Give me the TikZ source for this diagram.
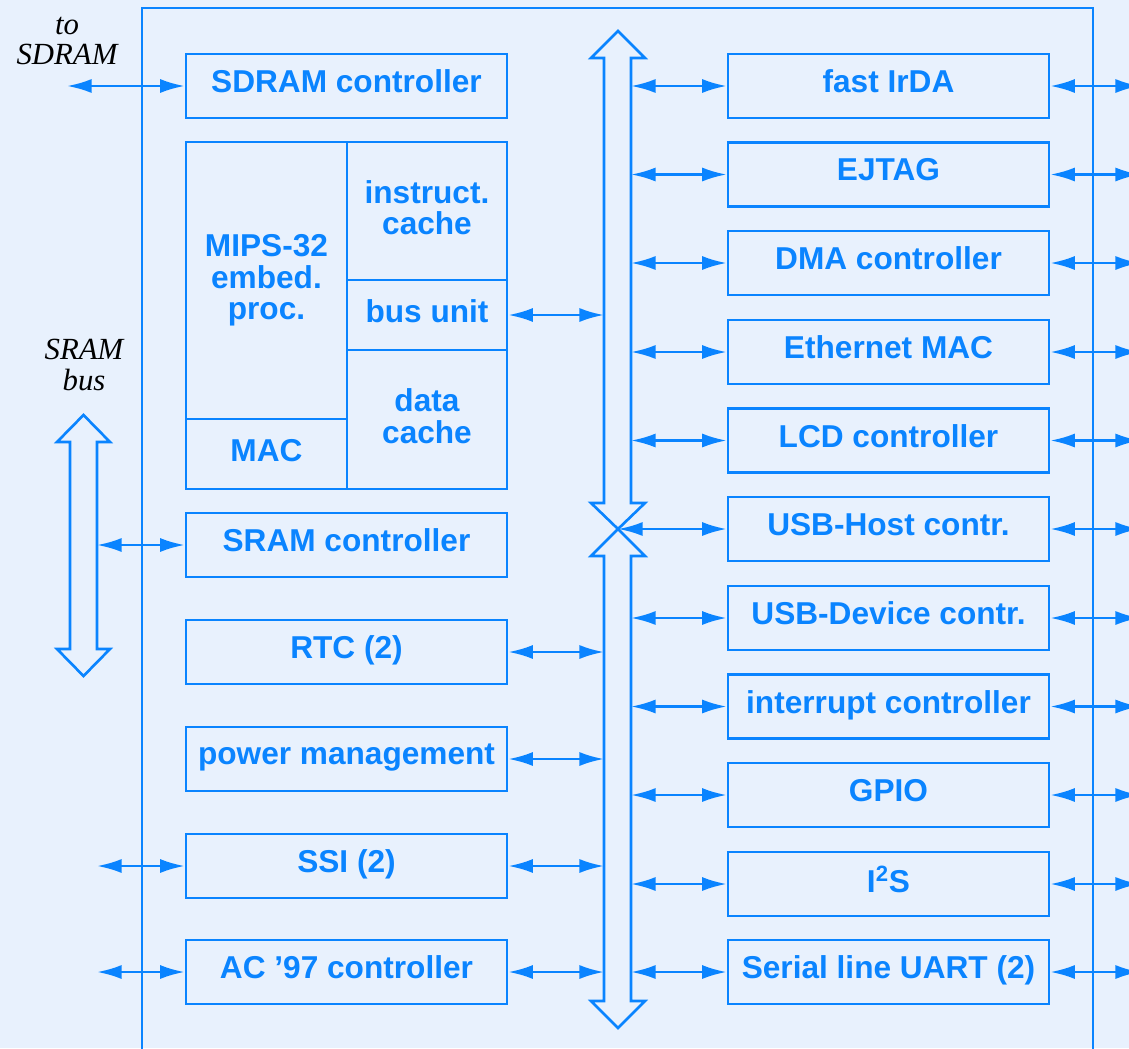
\documentclass[tikz,border=0pt]{standalone}
\usepackage{fontspec}
\setmainfont{Liberation Serif}
\setsansfont{Liberation Sans}
\usetikzlibrary{arrows.meta}
\definecolor{chip-blue}{HTML}{0A84FF}
\definecolor{chip-bg}{HTML}{E8F1FD}

\begin{document}
\begin{tikzpicture}[x=0.02cm, y=-0.02cm, line width=1.5pt, color=chip-blue,
    every node/.style={font=\sffamily\bfseries\fontsize{18}{18}\selectfont, text=chip-blue},
    unit/.style={draw, minimum width=6.42cm, minimum height=1.28cm, inner sep=0pt,
      text depth=5.5pt, align=center},
    part/.style={draw, inner sep=0pt, text depth=4pt, align=center},
    link/.style={<->, >={Latex[length=14pt,width=8pt]}},
    note/.style={font=\itshape\fontsize{17.5}{17.5}\selectfont, text=black, align=center}]
    \fill[chip-bg] (0,0) rectangle (1129,1048);
    \useasboundingbox (0,0) rectangle (1129,1048);
    % chip outline, open at the bottom
    \draw (142,1070) -- (142,8) -- (1093,8) -- (1093,1070);
    \coordinate (busL) at (604,0);
    \coordinate (busR) at (631,0);
    \coordinate (cross) at (618,529);
    \coordinate (sramR) at (97,0);
    \coordinate (farL) at (67,0);
    \coordinate (farR) at (1140,0);
    % internal bus (two hollow arrows meeting in the middle)
    \draw (604,503) -- (604,58) -- (591,58) -- (618,31) -- (645,58) -- (631,58)
      -- (631,503) -- (645,503) -- (cross) -- (591,503) -- cycle;
    \draw (604,556) -- (604,1001) -- (591,1001) -- (618,1028) -- (645,1001) -- (631,1001)
      -- (631,556) -- (645,556) -- (cross) -- (591,556) -- cycle;
    % SRAM bus
    \draw (70,442) -- (70,649) -- (57,649) -- (83.5,676) -- (110,649) -- (97,649)
      -- (97,442) -- (110,442) -- (83.5,415) -- (57,442) -- cycle;
    \node[note] (tosd) at (67,41) {to\\SDRAM};
    \node[note] (srbus) at (84,365) {SRAM\\bus};
    % left column
    \node[unit] (l0) at (346.5,86) {SDRAM controller};
    \node[part, minimum width=3.22cm, minimum height=5.54cm] (mips) at (266.5,280.5) {MIPS-32\\embed.\\proc.};
    \node[part, minimum width=3.22cm, minimum height=1.4cm] (mac) at (266.5,454) {MAC};
    \node[part, minimum width=3.2cm, minimum height=2.76cm] (icache) at (427,211) {instruct.\\cache};
    \node[part, minimum width=3.2cm, minimum height=1.4cm] (busu) at (427,315) {bus unit};
    \node[part, minimum width=3.2cm, minimum height=2.78cm] (dcache) at (427,419.5) {data\\cache};
    \node[unit] (l1) at (346.5,545) {SRAM controller};
    \node[unit] (l2) at (346.5,652) {RTC (2)};
    \node[unit] (l3) at (346.5,759) {power management};
    \node[unit] (l4) at (346.5,866) {SSI (2)};
    \node[unit] (l5) at (346.5,972) {AC ’97 controller};
    % right column
    \node[unit] (r0) at (888.5,86) {fast IrDA};
    \node[unit] (r1) at (888.5,174.5) {EJTAG};
    \node[unit] (r2) at (888.5,263) {DMA controller};
    \node[unit] (r3) at (888.5,352) {Ethernet MAC};
    \node[unit] (r4) at (888.5,440.5) {LCD controller};
    \node[unit] (r5) at (888.5,529) {USB-Host contr.};
    \node[unit] (r6) at (888.5,618) {USB-Device contr.};
    \node[unit] (r7) at (888.5,706.5) {interrupt controller};
    \node[unit] (r8) at (888.5,795) {GPIO};
    \node[unit] (r9) at (888.5,884) {I\textsuperscript{2}S};
    \node[unit] (r10) at (888.5,972) {Serial line UART (2)};
    % connectors, left side
    \draw[link] (farL |- l0.west) -- (l0.west);
    \draw[link] (busu.east) -- (busu.east -| busL);
    \draw[link] (sramR |- l1.west) -- (l1.west);
    \draw[link] (l2.east) -- (l2.east -| busL);
    \draw[link] (l3.east) -- (l3.east -| busL);
    \draw[link] (sramR |- l4.west) -- (l4.west);
    \draw[link] (l4.east) -- (l4.east -| busL);
    \draw[link] (sramR |- l5.west) -- (l5.west);
    \draw[link] (l5.east) -- (l5.east -| busL);
    % connectors, right side
    \draw[link] (busR |- r0.west) -- (r0.west);
    \draw[link] (busR |- r1.west) -- (r1.west);
    \draw[link] (busR |- r2.west) -- (r2.west);
    \draw[link] (busR |- r3.west) -- (r3.west);
    \draw[link] (busR |- r4.west) -- (r4.west);
    \draw[link] (cross) -- (r5.west);
    \draw[link] (busR |- r6.west) -- (r6.west);
    \draw[link] (busR |- r7.west) -- (r7.west);
    \draw[link] (busR |- r8.west) -- (r8.west);
    \draw[link] (busR |- r9.west) -- (r9.west);
    \draw[link] (busR |- r10.west) -- (r10.west);
    \draw[link] (r0.east) -- (r0.east -| farR);
    \draw[link] (r1.east) -- (r1.east -| farR);
    \draw[link] (r2.east) -- (r2.east -| farR);
    \draw[link] (r3.east) -- (r3.east -| farR);
    \draw[link] (r4.east) -- (r4.east -| farR);
    \draw[link] (r5.east) -- (r5.east -| farR);
    \draw[link] (r6.east) -- (r6.east -| farR);
    \draw[link] (r7.east) -- (r7.east -| farR);
    \draw[link] (r8.east) -- (r8.east -| farR);
    \draw[link] (r9.east) -- (r9.east -| farR);
    \draw[link] (r10.east) -- (r10.east -| farR);
\end{tikzpicture}
\end{document}
